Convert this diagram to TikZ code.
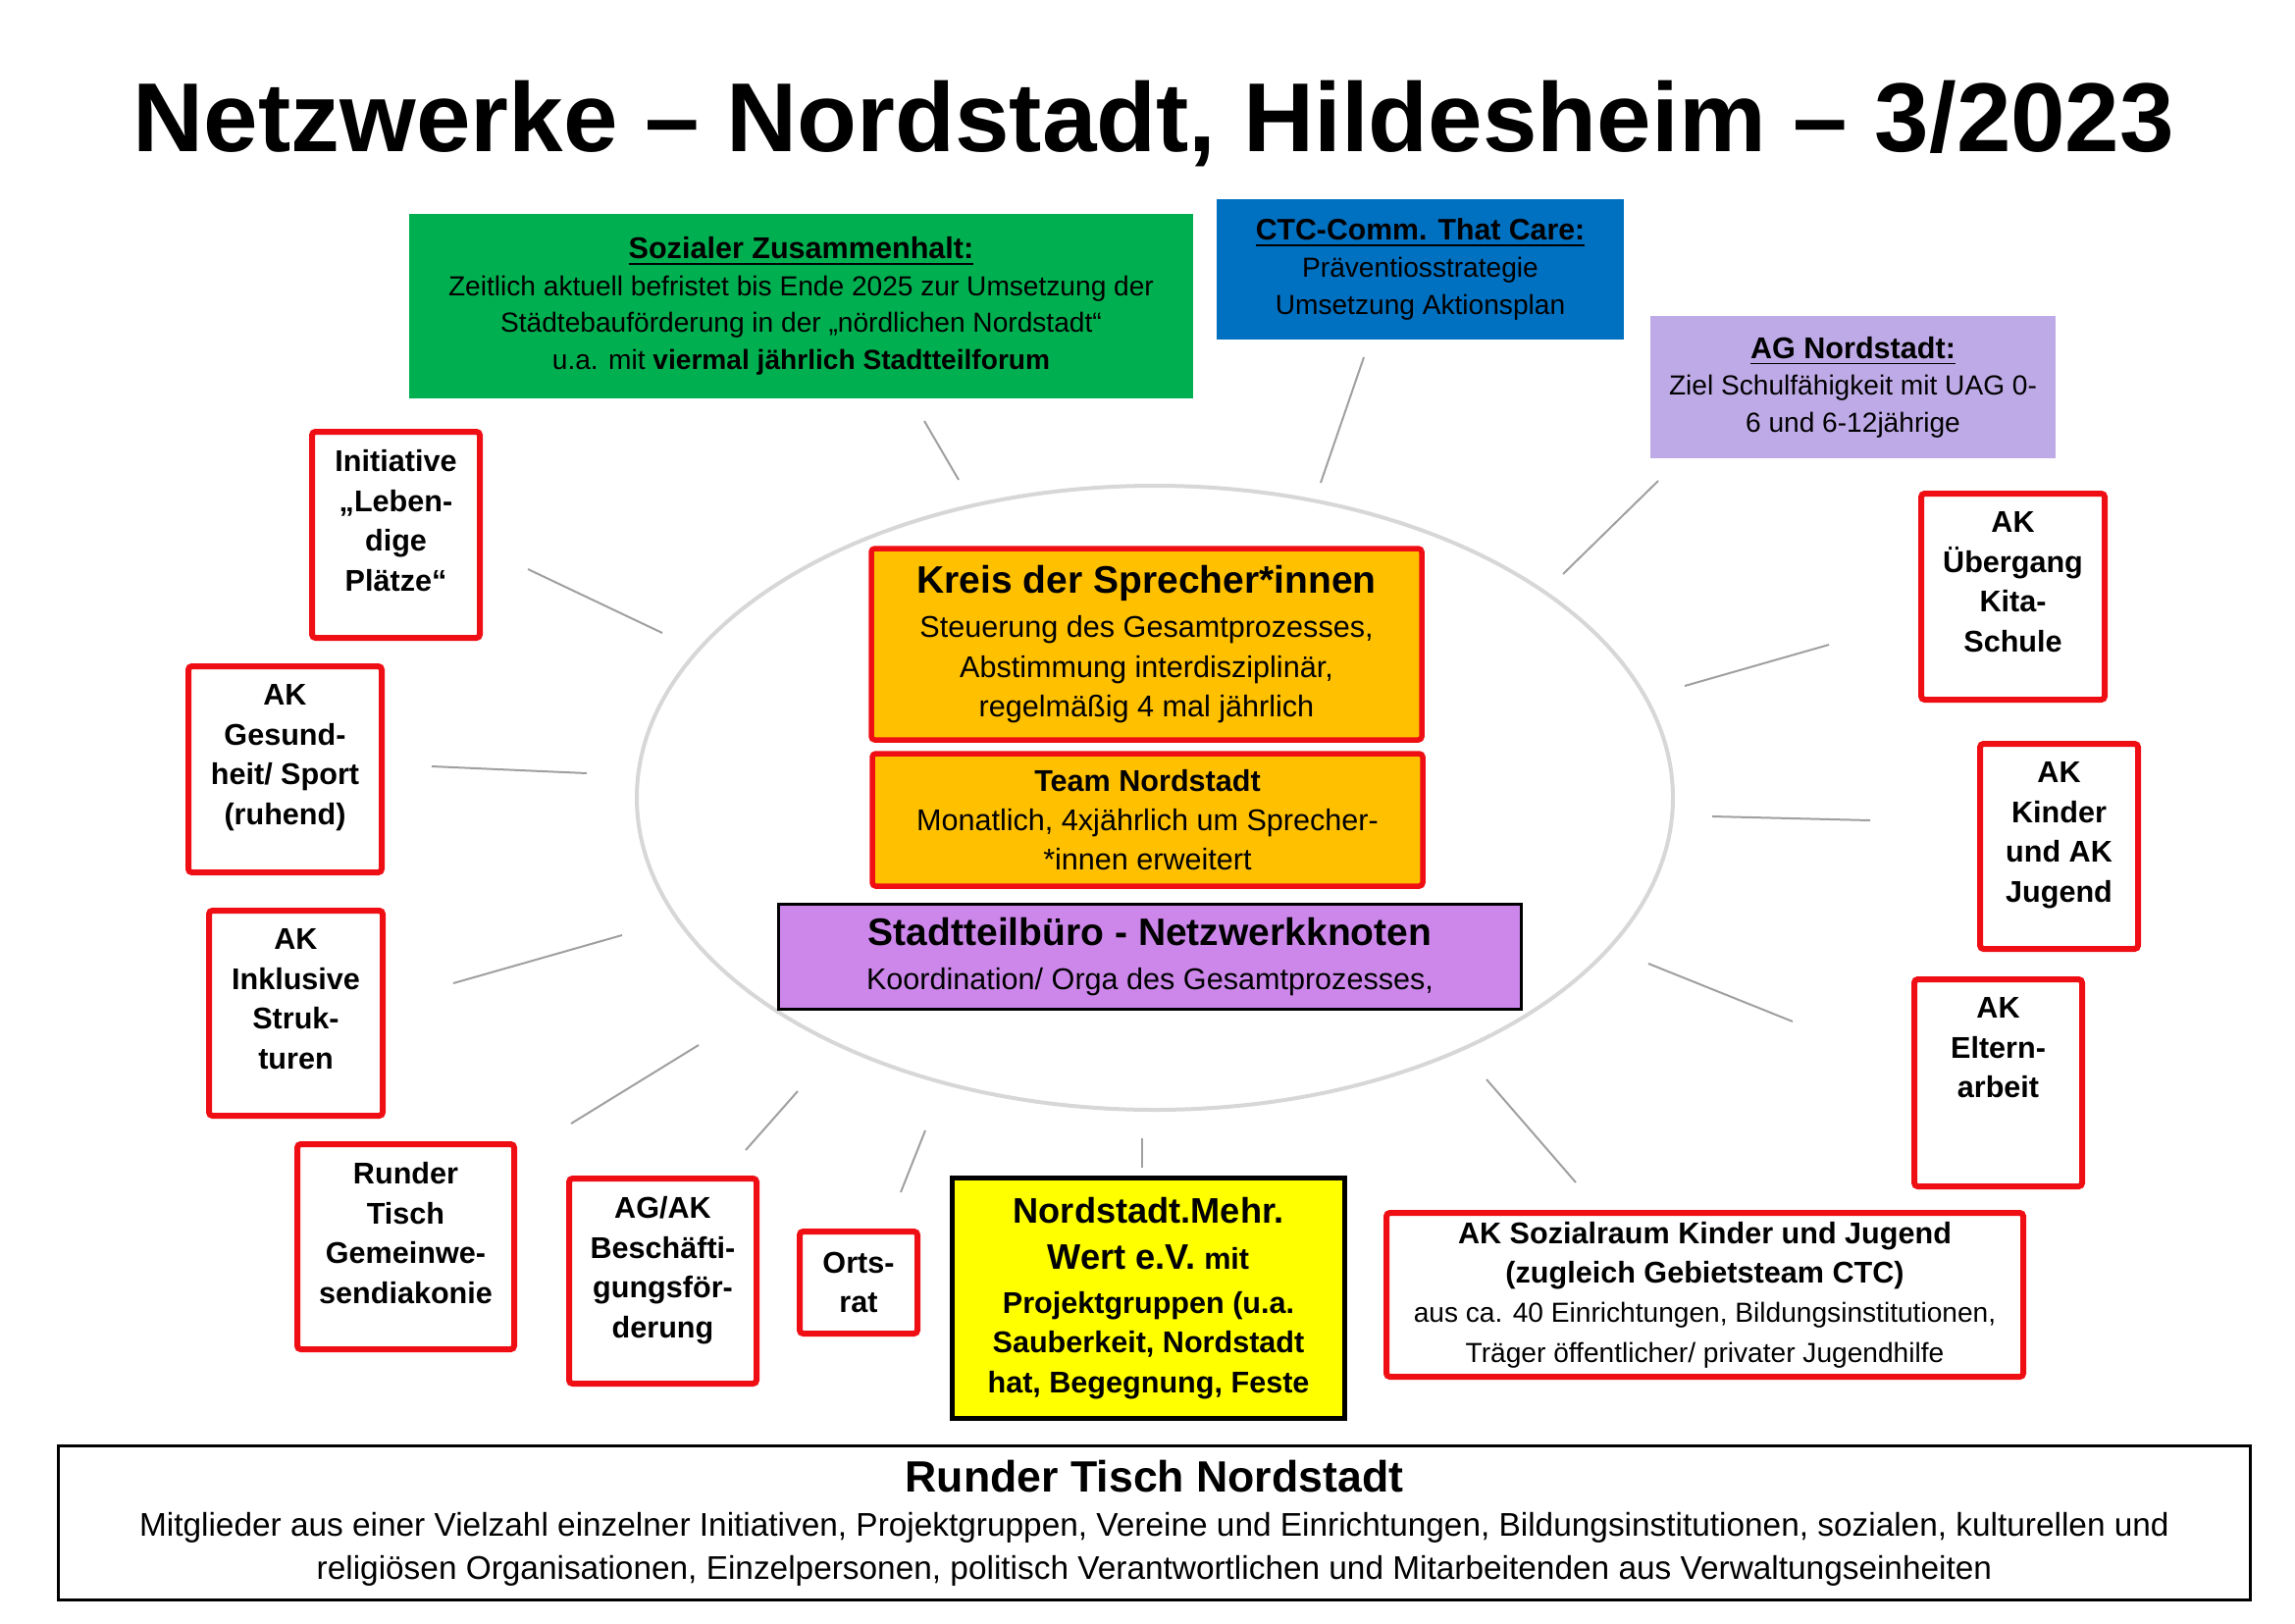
\documentclass[tikz,border=0pt]{standalone}
\usepackage{fontspec}
\setmainfont{Liberation Sans}
\usepackage{tikz}
\definecolor{signal}{RGB}{238,14,20}
\definecolor{amber}{RGB}{255,192,0}
\definecolor{grass}{RGB}{0,176,80}
\definecolor{ocean}{RGB}{0,112,192}
\definecolor{lilac}{RGB}{190,170,230}
\definecolor{violet}{RGB}{205,135,235}
\definecolor{lemon}{RGB}{255,255,0}
\definecolor{ringgray}{RGB}{215,215,215}
\definecolor{spokegray}{RGB}{160,160,160}
\usetikzlibrary{positioning}
\tikzstyle{akbox} = [rectangle, rounded corners=1pt, draw=signal, line width=0.06cm, fill=white]
\tikzstyle{aktext} = [align=center, inner sep=0pt, font=\fontsize{8.7}{11.5}\selectfont\bfseries]
\tikzstyle{infobox} = [rectangle, align=center, inner sep=0pt, font=\fontsize{8}{10.7}\selectfont]
\tikzstyle{corebox} = [rectangle, rounded corners=1pt, draw=signal, line width=0.055cm, fill=amber, align=center, inner sep=0pt, font=\fontsize{8.7}{11.5}\selectfont]
\tikzstyle{spoke} = [draw=spokegray, line width=0.02cm]

\begin{document}
\begin{tikzpicture}
    \useasboundingbox (0,0) rectangle (23.39,-16.54);

    \node (title) [anchor=base, inner sep=0pt, font=\fontsize{28.4}{33}\selectfont\bfseries] at (11.76,-1.54) {Netzwerke – Nordstadt, Hildesheim – 3/2023};

    % ring around the core
    \draw [draw=ringgray, line width=0.04cm] (11.77,-8.13) ellipse [x radius=5.28, y radius=3.18];

    % top boxes
    \node (soz) [infobox, fill=grass, minimum width=7.99cm, minimum height=1.88cm] at (8.165,-3.12) {{\fontsize{8.7}{10.7}\selectfont\bfseries\underline{Sozialer Zusammenhalt:}}\\Zeitlich aktuell befristet bis Ende 2025 zur Umsetzung der\\Städtebauförderung in der „nördlichen Nordstadt“\\u.a. mit \textbf{viermal jährlich Stadtteilforum}};
    \node (ctc) [infobox, fill=ocean, minimum width=4.15cm, minimum height=1.43cm] at (14.475,-2.745) {{\fontsize{8.6}{10.7}\selectfont\bfseries\underline{CTC-Comm. That Care:}}\\Präventiosstrategie\\Umsetzung Aktionsplan};
    \node (agn) [infobox, fill=lilac, minimum width=4.13cm, minimum height=1.45cm] at (18.885,-3.945) {{\fontsize{8.7}{10.9}\selectfont\bfseries\underline{AG Nordstadt:}}\\Ziel Schulfähigkeit mit UAG 0-\\6 und 6-12jährige};

    % core
    \node (kreis) [corebox, minimum width=5.61cm, minimum height=1.95cm] at (11.685,-6.565) {{\fontsize{11.1}{13}\selectfont\bfseries Kreis der Sprecher*innen}\\[1.5pt]Steuerung des Gesamtprozesses,\\Abstimmung interdisziplinär,\\regelmäßig 4 mal jährlich};
    \node (team) [corebox, minimum width=5.61cm, minimum height=1.35cm] at (11.695,-8.355) {\textbf{Team Nordstadt}\\Monatlich, 4xjährlich um Sprecher-\\*innen erweitert};
    \node (buero) [rectangle, draw=black, line width=0.03cm, fill=violet, align=center, inner sep=0pt, font=\fontsize{8.7}{11.5}\selectfont, minimum width=7.57cm, minimum height=1.07cm] at (11.72,-9.75) {{\fontsize{11.1}{13}\selectfont\bfseries Stadtteilbüro - Netzwerkknoten}\\[1.5pt]Koordination/ Orga des Gesamtprozesses,};

    % left boxes
    \node (init) [akbox, minimum width=1.71cm, minimum height=2.10cm] at (4.035,-5.45) {};
    \node (init-t) [aktext, below=0.21cm of init.north] {Initiative\\„Leben-\\dige\\Plätze“};
    \node (gesund) [akbox, minimum width=1.97cm, minimum height=2.10cm] at (2.905,-7.84) {};
    \node (gesund-t) [aktext, below=0.21cm of gesund.north] {AK\\Gesund-\\heit/ Sport\\(ruhend)};
    \node (inkl) [akbox, minimum width=1.77cm, minimum height=2.09cm] at (3.015,-10.325) {};
    \node (inkl-t) [aktext, below=0.21cm of inkl.north] {AK\\Inklusive\\Struk-\\turen};

    % bottom boxes
    \node (rtgem) [akbox, minimum width=2.21cm, minimum height=2.09cm] at (4.135,-12.705) {};
    \node (rtgem-t) [aktext, below=0.21cm of rtgem.north] {Runder\\Tisch\\Gemeinwe-\\sendiakonie};
    \node (agak) [akbox, minimum width=1.91cm, minimum height=2.09cm] at (6.755,-13.055) {};
    \node (agak-t) [aktext, below=0.21cm of agak.north] {AG/AK\\Beschäfti-\\gungsför-\\derung};
    \node (orts) [akbox, aktext, minimum width=1.20cm, minimum height=1.04cm] at (8.75,-13.07) {Orts-\\rat};
    \node (mehr) [rectangle, draw=black, line width=0.045cm, fill=lemon, align=center, inner sep=0pt, font=\fontsize{8.7}{11.5}\selectfont\bfseries, minimum width=4.00cm, minimum height=2.45cm] at (11.705,-13.23) {{\fontsize{10.3}{13}\selectfont Nordstadt.Mehr.}\\[1.7pt]{\fontsize{10.3}{13}\selectfont Wert e.V.} mit\\[1.3pt]Projektgruppen (u.a.\\Sauberkeit, Nordstadt\\hat, Begegnung, Feste};
    \node (sozraum) [akbox, align=center, inner sep=0pt, font=\fontsize{8}{11.5}\selectfont, minimum width=6.49cm, minimum height=1.67cm] at (17.375,-13.195) {{\fontsize{8.7}{11.5}\selectfont\bfseries AK Sozialraum Kinder und Jugend}\\{\fontsize{8.7}{11.5}\selectfont\bfseries (zugleich Gebietsteam CTC)}\\aus ca. 40 Einrichtungen, Bildungsinstitutionen,\\Träger öffentlicher/ privater Jugendhilfe};

    % right boxes
    \node (ueb) [akbox, minimum width=1.87cm, minimum height=2.10cm] at (20.515,-6.08) {};
    \node (ueb-t) [aktext, below=0.21cm of ueb.north] {AK\\Übergang\\Kita-\\Schule};
    \node (kinder) [akbox, minimum width=1.61cm, minimum height=2.09cm] at (20.985,-8.625) {};
    \node (kinder-t) [aktext, below=0.21cm of kinder.north] {AK\\Kinder\\und AK\\Jugend};
    \node (eltern) [akbox, minimum width=1.71cm, minimum height=2.11cm] at (20.365,-11.035) {};
    \node (eltern-t) [aktext, below=0.21cm of eltern.north] {AK\\Eltern-\\arbeit};

    % round table
    \node (rtn) [rectangle, draw=black, line width=0.03cm, fill=white, align=center, inner sep=0pt, font=\fontsize{9.5}{12.4}\selectfont, minimum width=22.34cm, minimum height=1.57cm] at (11.765,-15.52) {{\fontsize{12.7}{14}\selectfont\bfseries Runder Tisch Nordstadt}\\[0.5pt]Mitglieder aus einer Vielzahl einzelner Initiativen, Projektgruppen, Vereine und Einrichtungen, Bildungsinstitutionen, sozialen, kulturellen und\\religiösen Organisationen, Einzelpersonen, politisch Verantwortlichen und Mitarbeitenden aus Verwaltungseinheiten};

    % spokes
    \coordinate (soz-a) at (9.42,-4.29);
    \coordinate (soz-b) at (9.77,-4.89);
    \coordinate (ctc-a) at (13.90,-3.64);
    \coordinate (ctc-b) at (13.46,-4.92);
    \coordinate (agn-a) at (16.90,-4.90);
    \coordinate (agn-b) at (15.93,-5.85);
    \coordinate (ueb-a) at (18.64,-6.57);
    \coordinate (ueb-b) at (17.17,-6.99);
    \coordinate (kinder-a) at (19.06,-8.36);
    \coordinate (kinder-b) at (17.45,-8.32);
    \coordinate (eltern-a) at (18.27,-10.41);
    \coordinate (eltern-b) at (16.80,-9.82);
    \coordinate (sozraum-a) at (16.06,-12.05);
    \coordinate (sozraum-b) at (15.15,-11.00);
    \coordinate (mehr-a) at (11.64,-11.90);
    \coordinate (mehr-b) at (11.64,-11.60);
    \coordinate (orts-a) at (9.18,-12.15);
    \coordinate (orts-b) at (9.43,-11.52);
    \coordinate (agak-a) at (7.60,-11.72);
    \coordinate (agak-b) at (8.13,-11.12);
    \coordinate (rtgem-a) at (5.82,-11.45);
    \coordinate (rtgem-b) at (7.12,-10.65);
    \coordinate (inkl-a) at (4.62,-10.02);
    \coordinate (inkl-b) at (6.34,-9.53);
    \coordinate (gesund-a) at (4.40,-7.81);
    \coordinate (gesund-b) at (5.98,-7.88);
    \coordinate (init-a) at (5.38,-5.80);
    \coordinate (init-b) at (6.75,-6.45);

    \draw [spoke] (soz-a) -- (soz-b);
    \draw [spoke] (ctc-a) -- (ctc-b);
    \draw [spoke] (agn-a) -- (agn-b);
    \draw [spoke] (ueb-a) -- (ueb-b);
    \draw [spoke] (kinder-a) -- (kinder-b);
    \draw [spoke] (eltern-a) -- (eltern-b);
    \draw [spoke] (sozraum-a) -- (sozraum-b);
    \draw [spoke] (mehr-a) -- (mehr-b);
    \draw [spoke] (orts-a) -- (orts-b);
    \draw [spoke] (agak-a) -- (agak-b);
    \draw [spoke] (rtgem-a) -- (rtgem-b);
    \draw [spoke] (inkl-a) -- (inkl-b);
    \draw [spoke] (gesund-a) -- (gesund-b);
    \draw [spoke] (init-a) -- (init-b);
\end{tikzpicture}
\end{document}
